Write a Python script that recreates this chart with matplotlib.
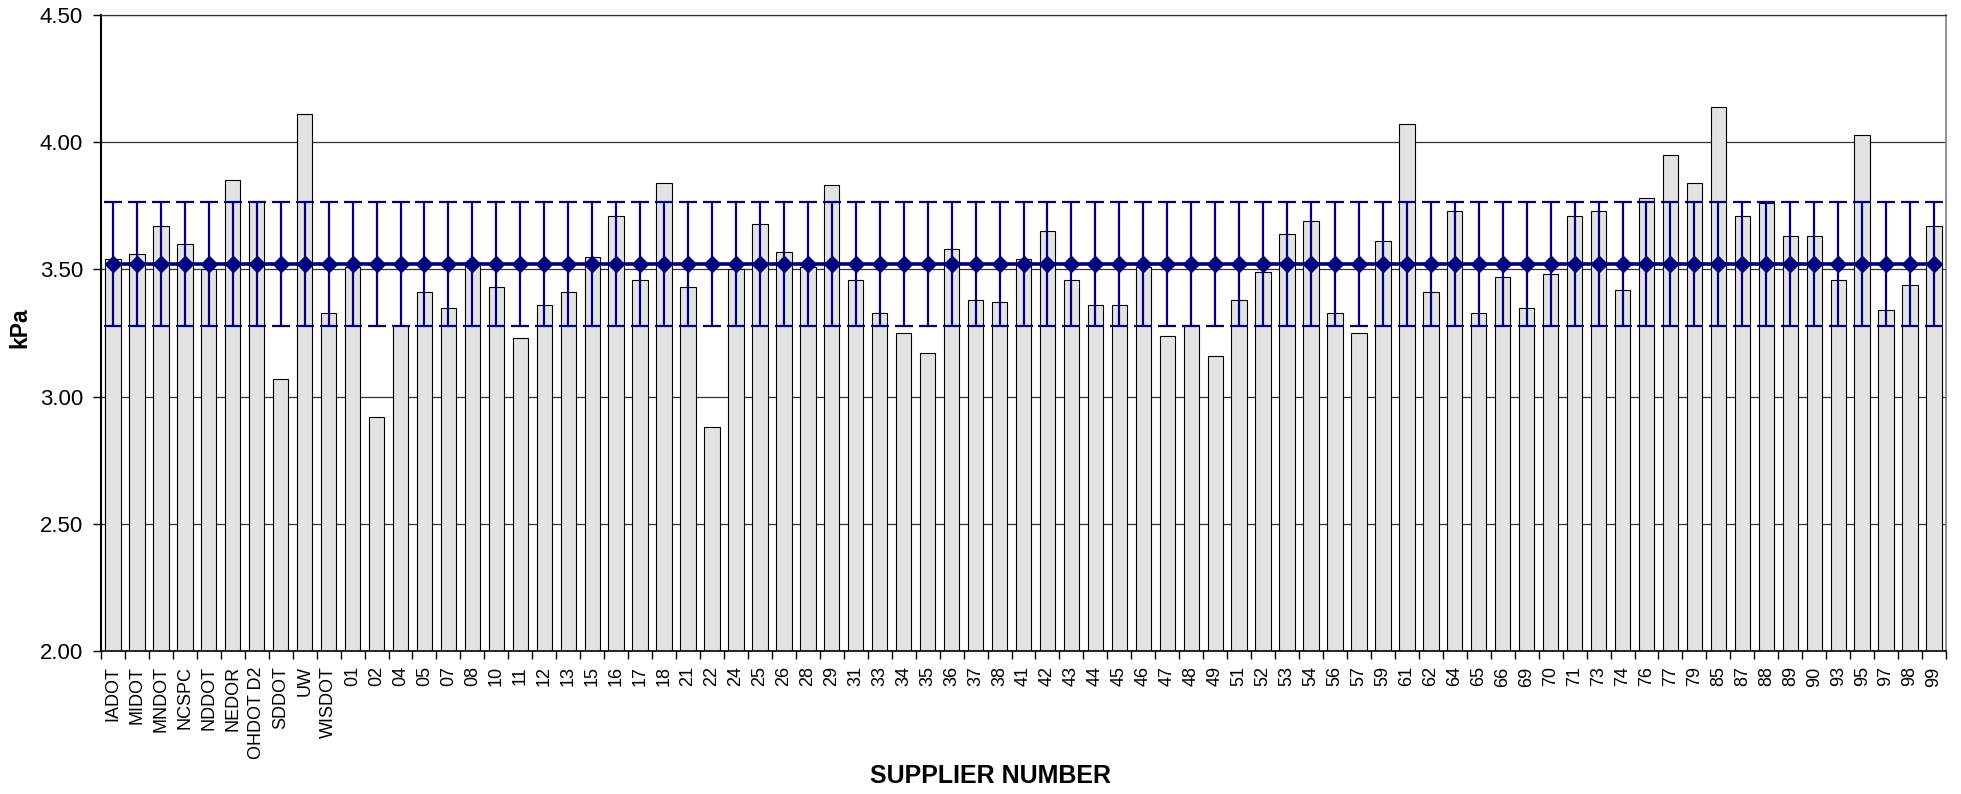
import numpy as np
import matplotlib
matplotlib.use('Agg')
import matplotlib.pyplot as plt
from matplotlib.ticker import FixedLocator, FormatStrFormatter

# Suppliers (x axis categories)
suppliers = ['IADOT', 'MIDOT', 'MNDOT', 'NCSPC', 'NDDOT', 'NEDOR', 'OHDOT D2', 'SDDOT', 'UW', 'WISDOT',
             '01', '02', '04', '05', '07', '08', '10', '11', '12', '13',
             '15', '16', '17', '18', '21', '22', '24', '25', '26', '28',
             '29', '31', '33', '34', '35', '36', '37', '38', '41', '42',
             '43', '44', '45', '46', '47', '48', '49', '51', '52', '53',
             '54', '56', '57', '59', '61', '62', '64', '65', '66', '69',
             '70', '71', '73', '74', '76', '77', '79', '85', '87', '88',
             '89', '90', '93', '95', '97', '98', '99']

# Measured value per supplier, kPa
kpa = [3.54, 3.56, 3.67, 3.60, 3.50, 3.85, 3.77, 3.07, 4.11, 3.33,
       3.51, 2.92, 3.28, 3.41, 3.35, 3.53, 3.43, 3.23, 3.36, 3.41,
       3.55, 3.71, 3.46, 3.84, 3.43, 2.88, 3.50, 3.68, 3.57, 3.51,
       3.83, 3.46, 3.33, 3.25, 3.17, 3.58, 3.38, 3.37, 3.54, 3.65,
       3.46, 3.36, 3.36, 3.51, 3.24, 3.28, 3.16, 3.38, 3.49, 3.64,
       3.69, 3.33, 3.25, 3.61, 4.07, 3.41, 3.73, 3.33, 3.47, 3.35,
       3.48, 3.71, 3.73, 3.42, 3.78, 3.95, 3.84, 4.14, 3.71, 3.76,
       3.63, 3.63, 3.46, 4.03, 3.34, 3.44, 3.67]

# Grand mean and its +/- band
grand_mean = 3.52
band = 0.244

x = np.arange(len(suppliers))
mean_line = np.full(len(suppliers), grand_mean)
err = np.full(len(suppliers), band)

plt.rcParams['font.family'] = ['Liberation Sans', 'DejaVu Sans']

fig = plt.figure(figsize=(19.61, 7.94), dpi=100)
ax = fig.add_axes([101 / 1961, 1 - 651 / 794, (1946 - 101) / 1961, (651 - 15) / 794])

ax.bar(x, kpa, width=0.64, bottom=0, color='#e3e3e3', edgecolor='black', linewidth=0.8, zorder=2)

ax.errorbar(x, mean_line, yerr=err, color='#000080', linewidth=2.6, marker='D', markersize=8,
            ecolor='#000080', elinewidth=1.6, capsize=6.5, capthick=1.6, zorder=3)

ax.set_ylim(2.0, 4.5)
ax.set_xlim(-0.5, len(suppliers) - 0.5)
ax.set_yticks(np.arange(2.0, 4.51, 0.5))
ax.yaxis.set_major_formatter(FormatStrFormatter('%.2f'))
ax.yaxis.grid(True, color='#333333', linewidth=0.9, zorder=0)
ax.set_axisbelow(True)

ax.set_xticks(x)
ax.set_xticklabels(suppliers, rotation=90, fontsize=13)
ax.xaxis.set_minor_locator(FixedLocator(np.arange(-0.5, len(suppliers), 1.0)))
ax.tick_params(axis='x', which='major', length=0, pad=11)
ax.tick_params(axis='x', which='minor', length=6, width=1, direction='out')
ax.tick_params(axis='y', which='major', length=6, width=1, labelsize=16, pad=7)

ax.spines['left'].set_linewidth(1.5)
ax.spines['bottom'].set_linewidth(1.2)
ax.spines['top'].set_color('#333333')
ax.spines['top'].set_linewidth(0.9)
ax.spines['right'].set_color('#808080')
ax.spines['right'].set_linewidth(1.2)

fig.text(19.5 / 1961, 1 - 328 / 794, 'kPa', rotation=90, fontsize=16.5, fontweight='bold',
         ha='center', va='center')
fig.text(991 / 1961, 1 - 776 / 794, 'SUPPLIER NUMBER', fontsize=18, fontweight='bold',
         ha='center', va='center')

fig.savefig('out.png', dpi=100)
